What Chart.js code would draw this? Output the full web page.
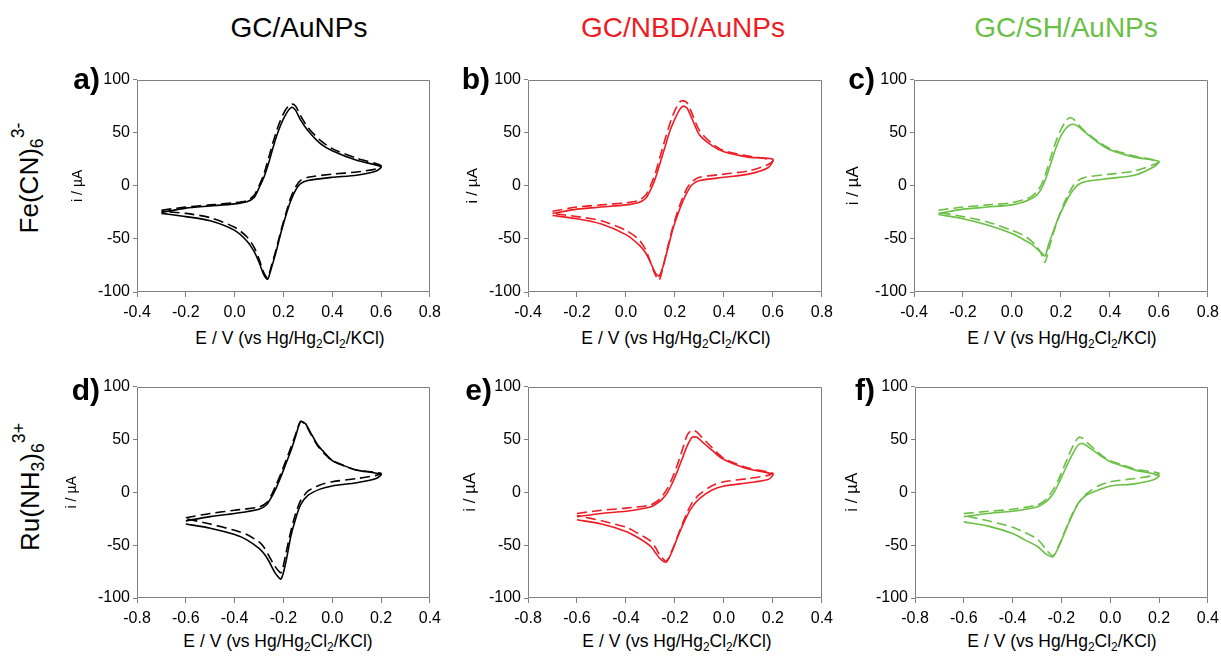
<!DOCTYPE html>
<html><head><meta charset="utf-8">
<script src="https://cdn.jsdelivr.net/npm/chart.js@4.4.1/dist/chart.umd.min.js"></script>
<style>
html,body{margin:0;padding:0;background:#fff;width:1221px;height:657px;overflow:hidden;position:relative;font-family:"Liberation Sans",Arial,sans-serif;color:#000;}
canvas{position:absolute;}
.t{position:absolute;white-space:nowrap;line-height:1;}
.col{font-size:28px;transform:translate(-50%,-50%);}
.row{font-size:26px;transform:translate(-50%,-50%) rotate(-90deg);}
.lab{font-size:30px;font-weight:bold;transform:translateY(-50%);}
.xt{font-size:17.5px;transform:translate(-50%,-50%);}
sub,sup{font-size:0.68em;line-height:0;}
sub{vertical-align:-0.3em;}
sup{vertical-align:0.8em;}
</style></head><body>
<script>
// ---- potentials (V): forward sweep then reverse sweep ----
const feE = [-0.3,-0.2,-0.1,0.0,0.05,0.08,0.1,0.12,0.14,0.16,0.18,0.2,0.22,0.235,0.25,0.27,0.3,0.35,0.4,0.5,0.6,
             0.58,0.5,0.4,0.3,0.27,0.25,0.23,0.21,0.19,0.17,0.15,0.135,0.12,0.1,0.08,0.05,0.0,-0.1,-0.2,-0.3];
const ruE = [-0.6,-0.5,-0.4,-0.3,-0.27,-0.25,-0.23,-0.21,-0.19,-0.17,-0.15,-0.13,-0.11,-0.09,-0.06,-0.03,0.0,0.05,0.1,0.2,
             0.18,0.1,0.0,-0.05,-0.1,-0.13,-0.15,-0.17,-0.19,-0.21,-0.235,-0.26,-0.28,-0.3,-0.35,-0.4,-0.5,-0.6];

// ---- currents (µA) ----
const aSolid  = [-25,-21,-19,-17,-15,-11,-2,8,22,38,52,63,71,74,71,62,52,40,33,24,18,
                 14,10,8,5,2,-4,-14,-28,-44,-62,-78,-88,-84,-72,-62,-52,-42,-33,-29,-26];
const aDashed = [-23,-20,-18,-16,-14,-9,0,11,27,43,57,68,75,77,75,66,55,43,35,26,19,
                 16,13,11,8,5,-1,-11,-26,-42,-60,-76,-87,-82,-69,-58,-48,-39,-30,-26,-24];
const bSolid  = [-26,-22,-20,-18,-16,-12,-4,7,22,37,52,63,72,75,73,63,48,38,32,27,25,
                 17,11,8,5,1,-6,-16,-28,-42,-60,-77,-85,-82,-72,-63,-55,-46,-36,-31,-28];
const bDashed = [-24,-20,-18,-16,-14,-9,0,12,28,44,59,71,79,80,78,68,52,40,33,28,24,
                 20,14,11,8,4,-2,-12,-25,-40,-58,-78,-89,-84,-72,-60,-50,-42,-33,-29,-26];
const cSolid  = [-26,-22,-20,-18,-15,-12,-9,-3,8,22,36,47,54,57,58,56,50,41,34,27,23,
                 18,10,7,4,1,-4,-11,-20,-30,-42,-55,-66,-63,-59,-55,-51,-45,-37,-31,-27];
const cDashed = [-23,-20,-18,-16,-13,-10,-6,1,13,28,42,53,61,64,63,58,51,42,35,28,23,
                 20,14,11,8,5,0,-8,-18,-30,-44,-60,-72,-64,-57,-52,-47,-42,-34,-29,-25];
const dSolid  = [-27,-23,-20,-16,-12,-5,4,15,27,39,53,67,65,57,45,37,30,25,21,17,
                 13,9,6,3,-3,-12,-25,-42,-66,-82,-76,-65,-58,-53,-45,-40,-34,-30];
const dDashed = [-24,-20,-17,-14,-10,-3,7,18,30,42,55,67,64,56,44,36,30,25,21,18,
                 16,13,10,7,1,-8,-20,-37,-58,-76,-70,-60,-52,-47,-40,-36,-30,-25];
const eSolid  = [-23,-20,-18,-14,-10,-6,0,9,20,32,44,52,52,48,42,36,31,26,22,17,
                 12,9,6,2,-6,-14,-22,-32,-43,-55,-66,-63,-57,-51,-43,-37,-30,-26];
const eDashed = [-20,-17,-15,-12,-8,-3,4,14,26,40,54,59,57,52,45,38,32,27,23,18,
                 16,13,10,6,-2,-10,-19,-30,-42,-54,-65,-60,-52,-46,-39,-33,-27,-22];
const fSolid  = [-23,-20,-18,-14,-10,-6,0,9,19,29,38,45,46,43,38,33,29,25,21,16,
                 12,8,6,2,-3,-10,-19,-29,-40,-51,-61,-59,-55,-51,-45,-39,-32,-28];
const fDashed = [-20,-18,-16,-12,-8,-3,4,13,24,35,45,52,51,46,40,34,30,26,22,18,
                 16,13,10,6,-2,-10,-18,-28,-39,-50,-60,-55,-49,-44,-38,-33,-27,-22];

// ---- tick labels ----
const feTicks = [-0.4,-0.2,0.0,0.2,0.4,0.6,0.8];
const ruTicks = [-0.8,-0.6,-0.4,-0.2,0.0,0.2,0.4];
const yTicks  = [-100,-50,0,50,100];

// ---- texts ----
const colTitles = ['GC/AuNPs','GC/NBD/AuNPs','GC/SH/AuNPs'];
const rowLabels = ['Fe(CN)<sub>6</sub><sup>3-</sup>','Ru(NH<sub>3</sub>)<sub>6</sub><sup>3+</sup>'];
const panelLetters = ['a)','b)','c)','d)','e)','f)'];
const xTitle = 'E / V (vs Hg/Hg<sub>2</sub>Cl<sub>2</sub>/KCl)';
const yTitle = 'i / µA';

// ---- styling / layout ----
const FONT = '"Liberation Sans", Arial, sans-serif';
const AXIS = '#7f7f7f';
const colColors = ['#000000','#ee1c24','#6abf45'];
const panels = [
  {E:feE, s:aSolid, d:aDashed, ticks:feTicks, col:0, box:[137,79,433,292], yt:14, yd:59, labR:100, labY:79, xtX:290, xtY:339},
  {E:feE, s:bSolid, d:bDashed, ticks:feTicks, col:1, box:[528,79,825,292], yt:15.5, yd:56, labR:490, labY:79, xtX:676, xtY:339},
  {E:feE, s:cSolid, d:cDashed, ticks:feTicks, col:2, box:[914,79,1211,292], yt:17, yd:61, labR:875, labY:79, xtX:1062, xtY:339},
  {E:ruE, s:dSolid, d:dDashed, ticks:ruTicks, col:0, box:[137,386,433,598], yt:14, yd:65, labR:100, labY:390, xtX:278, xtY:642},
  {E:ruE, s:eSolid, d:eDashed, ticks:ruTicks, col:1, box:[528,386,825,598], yt:17, yd:58, labR:492, labY:390, xtX:677, xtY:642},
  {E:ruE, s:fSolid, d:fDashed, ticks:ruTicks, col:2, box:[915,386,1211,598], yt:17, yd:63, labR:875, labY:390, xtX:1062, xtY:642}
];
const PAD_TOP = 12, PAD_RIGHT = 14, XH = 32;

function addText(cls, html, style){
  const d = document.createElement('div');
  d.className = 't ' + cls;
  d.innerHTML = html;
  Object.assign(d.style, style);
  document.body.appendChild(d);
}
function pts(E, I){ return E.map((e,k)=>({x:e, y:I[k]})); }
function fmt(v){ return Math.abs(v) < 1e-9 ? '0.0' : v.toFixed(1); }

const boxPlugin = {
  id:'box',
  afterDraw(c){
    const a = c.chartArea, ctx = c.ctx;
    const l = Math.round(a.left)+0.5, r = Math.round(a.right)-0.5, t = Math.round(a.top)+0.5, b = Math.round(a.bottom)-0.5;
    ctx.save();
    ctx.strokeStyle = AXIS; ctx.lineWidth = 1;
    ctx.beginPath(); ctx.rect(l, t, r-l, b-t); ctx.stroke();
    ctx.restore();
  }
};

// column titles
const colX = [299, 683, 1066];
colTitles.forEach((t,i)=>addText('col', t, {left:colX[i]+'px', top:'28px', color:colColors[i]}));
// row labels
addText('row', rowLabels[0], {left:'29px', top:'178px'});
addText('row', rowLabels[1], {left:'30px', top:'487px'});

panels.forEach((p, i) => {
  const [l,t,r,b] = p.box;
  const yw = Math.round(p.yd + p.yt*1.2/2);
  const cv = document.createElement('canvas');
  const w = yw + (r-l) + PAD_RIGHT, h = PAD_TOP + (b-t) + XH;
  cv.width = w; cv.height = h;
  cv.style.width = w+'px'; cv.style.height = h+'px';
  cv.style.left = (l-yw)+'px'; cv.style.top = (t-PAD_TOP)+'px';
  document.body.appendChild(cv);
  const color = colColors[p.col];
  const tickFont = {size:16, family:FONT};
  new Chart(cv, {
    type:'scatter',
    data:{datasets:[
      {data:pts(p.E, p.s), showLine:true, borderColor:color, backgroundColor:color, borderWidth:1.6, pointRadius:0, tension:0.25, fill:false},
      {data:pts(p.E, p.d), showLine:true, borderColor:color, backgroundColor:color, borderWidth:1.6, pointRadius:0, tension:0.25, fill:false, borderDash:[10,5]}
    ]},
    options:{
      responsive:false, animation:false, events:[],
      layout:{padding:{top:PAD_TOP, right:PAD_RIGHT, left:0, bottom:0}},
      plugins:{legend:{display:false}, tooltip:{enabled:false}},
      scales:{
        x:{type:'linear', position:'bottom', min:p.ticks[0], max:p.ticks[p.ticks.length-1],
           afterBuildTicks:s=>{ s.ticks = p.ticks.map(v=>({value:v})); },
           ticks:{font:tickFont, color:'#000', padding:6, maxRotation:0, minRotation:0, autoSkip:false, callback:v=>fmt(v)},
           grid:{display:true, drawOnChartArea:false, drawTicks:true, tickLength:5, color:AXIS},
           border:{display:false},
           afterFit:s=>{ s.height = XH; }},
        y:{type:'linear', position:'left', min:-100, max:100,
           afterBuildTicks:s=>{ s.ticks = yTicks.map(v=>({value:v})); },
           ticks:{font:tickFont, color:'#000', padding:3, autoSkip:false},
           grid:{display:true, drawOnChartArea:false, drawTicks:true, tickLength:4, color:AXIS},
           border:{display:false},
           title:{display:true, text:yTitle, font:{size:p.yt, family:FONT}, color:'#000', padding:0},
           afterFit:s=>{ s.width = yw; }}
      }
    },
    plugins:[boxPlugin]
  });
  addText('lab', panelLetters[i], {right:(1221-p.labR)+'px', top:p.labY+'px'});
  addText('xt', xTitle, {left:p.xtX+'px', top:p.xtY+'px'});
});
</script>
</body></html>
